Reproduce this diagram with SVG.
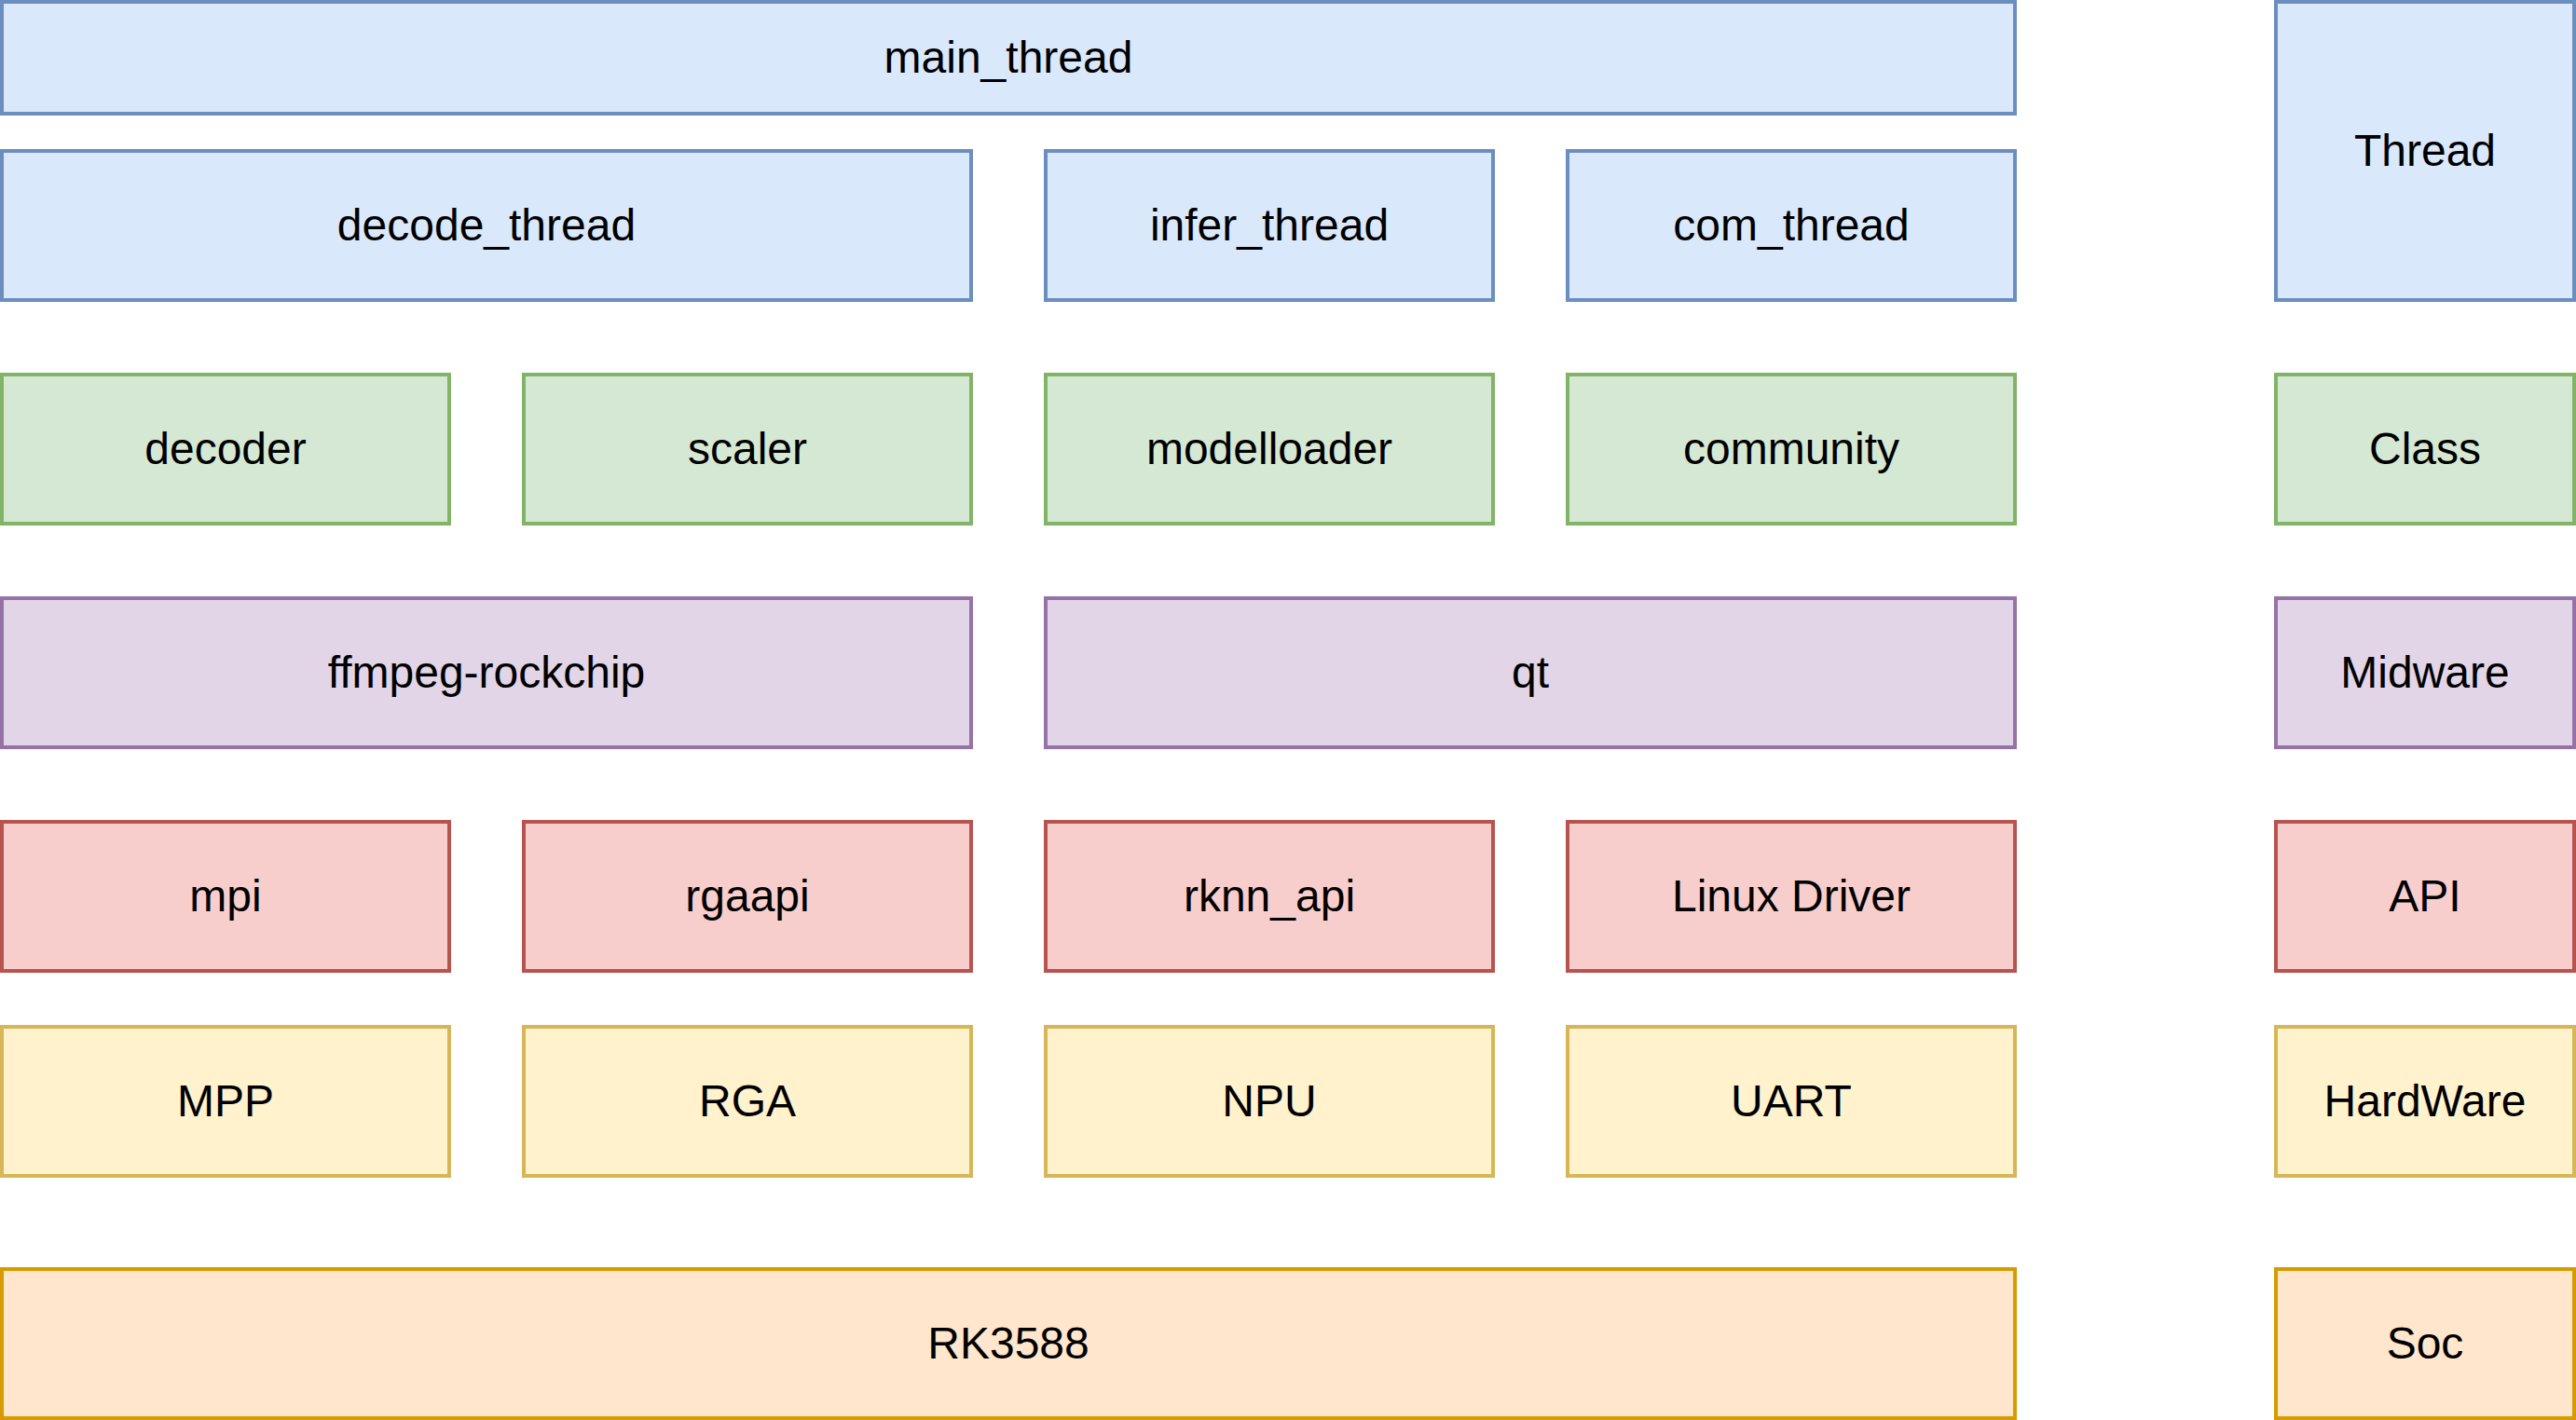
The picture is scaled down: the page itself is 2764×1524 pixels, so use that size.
<svg xmlns="http://www.w3.org/2000/svg" width="2764" height="1524" viewBox="0 0 2764 1524">
<style>
rect{stroke-width:4}
text{font-family:"Liberation Sans",Arial,Helvetica,sans-serif;font-size:48px;fill:#000;text-anchor:middle}
.blue rect{fill:#dae8fc;stroke:#6c8ebf}
.green rect{fill:#d5e8d4;stroke:#82b366}
.purple rect{fill:#e1d5e7;stroke:#9673a6}
.red rect{fill:#f8cecc;stroke:#b85450}
.yellow rect{fill:#fff2cc;stroke:#d6b656}
.orange rect{fill:#ffe6cc;stroke:#d79b00}
</style>
<rect width="2764" height="1524" fill="#ffffff"/>
<g class="blue">
<g id="main_thread"><rect x="2" y="2" width="2160" height="120"/><text x="1082" y="78">main_thread</text></g>
<g id="decode_thread"><rect x="2" y="162" width="1040" height="160"/><text x="522" y="258">decode_thread</text></g>
<g id="infer_thread"><rect x="1122" y="162" width="480" height="160"/><text x="1362" y="258">infer_thread</text></g>
<g id="com_thread"><rect x="1682" y="162" width="480" height="160"/><text x="1922" y="258">com_thread</text></g>
<g id="Thread"><rect x="2442" y="2" width="320" height="320"/><text x="2602" y="178">Thread</text></g>
</g>
<g class="green">
<g id="decoder"><rect x="2" y="402" width="480" height="160"/><text x="242" y="498">decoder</text></g>
<g id="scaler"><rect x="562" y="402" width="480" height="160"/><text x="802" y="498">scaler</text></g>
<g id="modelloader"><rect x="1122" y="402" width="480" height="160"/><text x="1362" y="498">modelloader</text></g>
<g id="community"><rect x="1682" y="402" width="480" height="160"/><text x="1922" y="498">community</text></g>
<g id="Class"><rect x="2442" y="402" width="320" height="160"/><text x="2602" y="498">Class</text></g>
</g>
<g class="purple">
<g id="ffmpeg-rockchip"><rect x="2" y="642" width="1040" height="160"/><text x="522" y="738">ffmpeg-rockchip</text></g>
<g id="qt"><rect x="1122" y="642" width="1040" height="160"/><text x="1642" y="738">qt</text></g>
<g id="Midware"><rect x="2442" y="642" width="320" height="160"/><text x="2602" y="738">Midware</text></g>
</g>
<g class="red">
<g id="mpi"><rect x="2" y="882" width="480" height="160"/><text x="242" y="978">mpi</text></g>
<g id="rgaapi"><rect x="562" y="882" width="480" height="160"/><text x="802" y="978">rgaapi</text></g>
<g id="rknn_api"><rect x="1122" y="882" width="480" height="160"/><text x="1362" y="978">rknn_api</text></g>
<g id="linux_driver"><rect x="1682" y="882" width="480" height="160"/><text x="1922" y="978">Linux Driver</text></g>
<g id="API"><rect x="2442" y="882" width="320" height="160"/><text x="2602" y="978">API</text></g>
</g>
<g class="yellow">
<g id="MPP"><rect x="2" y="1102" width="480" height="160"/><text x="242" y="1198">MPP</text></g>
<g id="RGA"><rect x="562" y="1102" width="480" height="160"/><text x="802" y="1198">RGA</text></g>
<g id="NPU"><rect x="1122" y="1102" width="480" height="160"/><text x="1362" y="1198">NPU</text></g>
<g id="UART"><rect x="1682" y="1102" width="480" height="160"/><text x="1922" y="1198">UART</text></g>
<g id="HardWare"><rect x="2442" y="1102" width="320" height="160"/><text x="2602" y="1198">HardWare</text></g>
</g>
<g class="orange">
<g id="RK3588"><rect x="2" y="1362" width="2160" height="160"/><text x="1082" y="1458">RK3588</text></g>
<g id="Soc"><rect x="2442" y="1362" width="320" height="160"/><text x="2602" y="1458">Soc</text></g>
</g>
</svg>
